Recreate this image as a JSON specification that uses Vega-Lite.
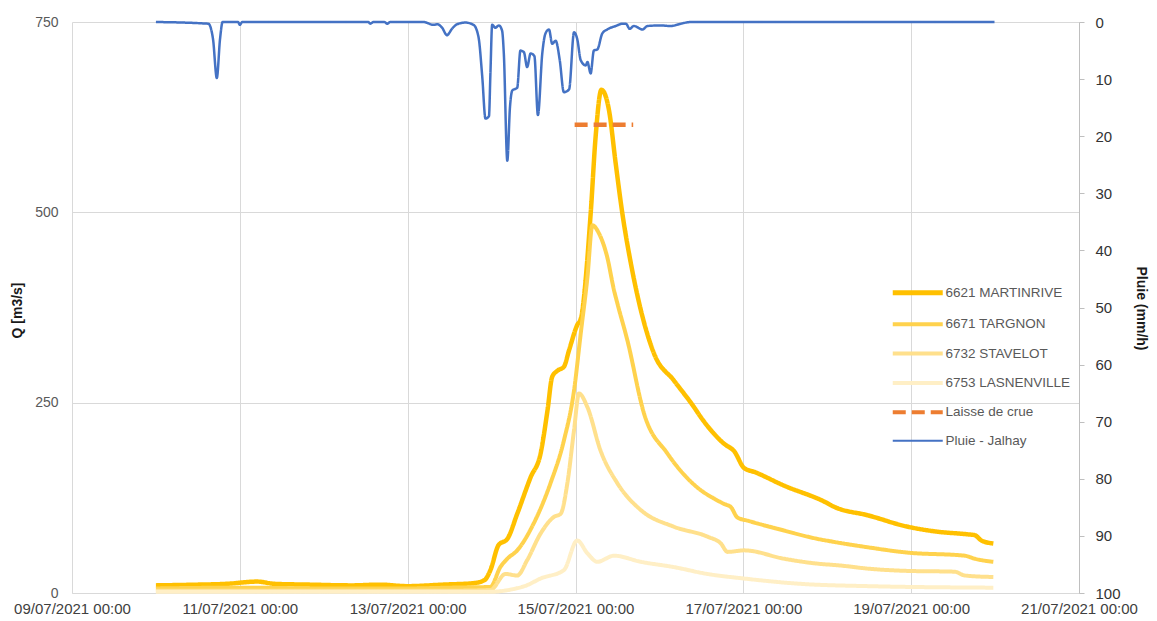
{
  "$schema": "https://vega.github.io/schema/vega-lite/v6.json",
  "width": 1007,
  "height": 571,
  "autosize": {"type": "none"},
  "padding": {"left": 72, "top": 22, "right": 78, "bottom": 28},
  "background": "white",
  "config": {
    "view": {"stroke": null},
    "font": "Liberation Sans"
  },
  "datasets": {
    "q": [
      {"t": "2021-07-10T00:00", "series": "6621 MARTINRIVE", "q": 10},
      {"t": "2021-07-10T12:00", "series": "6621 MARTINRIVE", "q": 11},
      {"t": "2021-07-10T20:00", "series": "6621 MARTINRIVE", "q": 12},
      {"t": "2021-07-11T05:00", "series": "6621 MARTINRIVE", "q": 15},
      {"t": "2021-07-11T10:00", "series": "6621 MARTINRIVE", "q": 12},
      {"t": "2021-07-11T20:00", "series": "6621 MARTINRIVE", "q": 11},
      {"t": "2021-07-12T08:00", "series": "6621 MARTINRIVE", "q": 10},
      {"t": "2021-07-12T16:00", "series": "6621 MARTINRIVE", "q": 11},
      {"t": "2021-07-13T00:00", "series": "6621 MARTINRIVE", "q": 9},
      {"t": "2021-07-13T10:00", "series": "6621 MARTINRIVE", "q": 11},
      {"t": "2021-07-13T19:00", "series": "6621 MARTINRIVE", "q": 13},
      {"t": "2021-07-13T22:00", "series": "6621 MARTINRIVE", "q": 17},
      {"t": "2021-07-13T23:40", "series": "6621 MARTINRIVE", "q": 30},
      {"t": "2021-07-14T02:00", "series": "6621 MARTINRIVE", "q": 63},
      {"t": "2021-07-14T04:30", "series": "6621 MARTINRIVE", "q": 71},
      {"t": "2021-07-14T07:20", "series": "6621 MARTINRIVE", "q": 104},
      {"t": "2021-07-14T11:10", "series": "6621 MARTINRIVE", "q": 152},
      {"t": "2021-07-14T14:00", "series": "6621 MARTINRIVE", "q": 183},
      {"t": "2021-07-14T16:00", "series": "6621 MARTINRIVE", "q": 240},
      {"t": "2021-07-14T17:20", "series": "6621 MARTINRIVE", "q": 284},
      {"t": "2021-07-14T18:50", "series": "6621 MARTINRIVE", "q": 292},
      {"t": "2021-07-14T20:40", "series": "6621 MARTINRIVE", "q": 297},
      {"t": "2021-07-14T22:10", "series": "6621 MARTINRIVE", "q": 319},
      {"t": "2021-07-15T00:30", "series": "6621 MARTINRIVE", "q": 352},
      {"t": "2021-07-15T01:30", "series": "6621 MARTINRIVE", "q": 360},
      {"t": "2021-07-15T04:20", "series": "6621 MARTINRIVE", "q": 498},
      {"t": "2021-07-15T05:45", "series": "6621 MARTINRIVE", "q": 599},
      {"t": "2021-07-15T07:25", "series": "6621 MARTINRIVE", "q": 661},
      {"t": "2021-07-15T09:35", "series": "6621 MARTINRIVE", "q": 634},
      {"t": "2021-07-15T11:30", "series": "6621 MARTINRIVE", "q": 564},
      {"t": "2021-07-15T13:25", "series": "6621 MARTINRIVE", "q": 498},
      {"t": "2021-07-15T15:50", "series": "6621 MARTINRIVE", "q": 433},
      {"t": "2021-07-15T17:45", "series": "6621 MARTINRIVE", "q": 390},
      {"t": "2021-07-15T22:30", "series": "6621 MARTINRIVE", "q": 314},
      {"t": "2021-07-16T04:10", "series": "6621 MARTINRIVE", "q": 279},
      {"t": "2021-07-16T09:55", "series": "6621 MARTINRIVE", "q": 244},
      {"t": "2021-07-16T11:50", "series": "6621 MARTINRIVE", "q": 231},
      {"t": "2021-07-16T18:30", "series": "6621 MARTINRIVE", "q": 196},
      {"t": "2021-07-16T21:25", "series": "6621 MARTINRIVE", "q": 186},
      {"t": "2021-07-17T00:15", "series": "6621 MARTINRIVE", "q": 164},
      {"t": "2021-07-17T03:10", "series": "6621 MARTINRIVE", "q": 159},
      {"t": "2021-07-17T11:40", "series": "6621 MARTINRIVE", "q": 141},
      {"t": "2021-07-17T23:10", "series": "6621 MARTINRIVE", "q": 120},
      {"t": "2021-07-18T02:05", "series": "6621 MARTINRIVE", "q": 113},
      {"t": "2021-07-18T11:40", "series": "6621 MARTINRIVE", "q": 102},
      {"t": "2021-07-18T23:05", "series": "6621 MARTINRIVE", "q": 87},
      {"t": "2021-07-19T06:40", "series": "6621 MARTINRIVE", "q": 81},
      {"t": "2021-07-19T16:15", "series": "6621 MARTINRIVE", "q": 77},
      {"t": "2021-07-19T18:10", "series": "6621 MARTINRIVE", "q": 76},
      {"t": "2021-07-19T20:05", "series": "6621 MARTINRIVE", "q": 69},
      {"t": "2021-07-19T23:30", "series": "6621 MARTINRIVE", "q": 65},

      {"t": "2021-07-10T00:00", "series": "6671 TARGNON", "q": 6},
      {"t": "2021-07-11T00:00", "series": "6671 TARGNON", "q": 7},
      {"t": "2021-07-12T00:00", "series": "6671 TARGNON", "q": 6},
      {"t": "2021-07-13T00:00", "series": "6671 TARGNON", "q": 6},
      {"t": "2021-07-13T12:00", "series": "6671 TARGNON", "q": 7},
      {"t": "2021-07-13T23:40", "series": "6671 TARGNON", "q": 8},
      {"t": "2021-07-14T02:30", "series": "6671 TARGNON", "q": 34},
      {"t": "2021-07-14T04:30", "series": "6671 TARGNON", "q": 45},
      {"t": "2021-07-14T07:20", "series": "6671 TARGNON", "q": 56},
      {"t": "2021-07-14T12:00", "series": "6671 TARGNON", "q": 91},
      {"t": "2021-07-14T16:50", "series": "6671 TARGNON", "q": 144},
      {"t": "2021-07-14T20:40", "series": "6671 TARGNON", "q": 200},
      {"t": "2021-07-14T23:35", "series": "6671 TARGNON", "q": 266},
      {"t": "2021-07-15T01:30", "series": "6671 TARGNON", "q": 341},
      {"t": "2021-07-15T03:25", "series": "6671 TARGNON", "q": 415},
      {"t": "2021-07-15T04:50", "series": "6671 TARGNON", "q": 483},
      {"t": "2021-07-15T06:45", "series": "6671 TARGNON", "q": 472},
      {"t": "2021-07-15T09:05", "series": "6671 TARGNON", "q": 441},
      {"t": "2021-07-15T11:00", "series": "6671 TARGNON", "q": 398},
      {"t": "2021-07-15T12:00", "series": "6671 TARGNON", "q": 380},
      {"t": "2021-07-15T14:50", "series": "6671 TARGNON", "q": 332},
      {"t": "2021-07-15T19:35", "series": "6671 TARGNON", "q": 236},
      {"t": "2021-07-16T02:20", "series": "6671 TARGNON", "q": 183},
      {"t": "2021-07-16T11:50", "series": "6671 TARGNON", "q": 135},
      {"t": "2021-07-16T15:40", "series": "6671 TARGNON", "q": 124},
      {"t": "2021-07-16T18:30", "series": "6671 TARGNON", "q": 117},
      {"t": "2021-07-16T20:25", "series": "6671 TARGNON", "q": 113},
      {"t": "2021-07-16T22:20", "series": "6671 TARGNON", "q": 99},
      {"t": "2021-07-17T01:15", "series": "6671 TARGNON", "q": 95},
      {"t": "2021-07-17T11:40", "series": "6671 TARGNON", "q": 82},
      {"t": "2021-07-17T21:20", "series": "6671 TARGNON", "q": 71},
      {"t": "2021-07-18T02:05", "series": "6671 TARGNON", "q": 67},
      {"t": "2021-07-18T11:40", "series": "6671 TARGNON", "q": 60},
      {"t": "2021-07-18T23:05", "series": "6671 TARGNON", "q": 53},
      {"t": "2021-07-19T15:20", "series": "6671 TARGNON", "q": 49},
      {"t": "2021-07-19T18:10", "series": "6671 TARGNON", "q": 45},
      {"t": "2021-07-19T23:30", "series": "6671 TARGNON", "q": 41},

      {"t": "2021-07-10T00:00", "series": "6732 STAVELOT", "q": 3},
      {"t": "2021-07-12T00:00", "series": "6732 STAVELOT", "q": 3},
      {"t": "2021-07-13T12:00", "series": "6732 STAVELOT", "q": 3},
      {"t": "2021-07-13T23:40", "series": "6732 STAVELOT", "q": 4},
      {"t": "2021-07-14T04:00", "series": "6732 STAVELOT", "q": 25},
      {"t": "2021-07-14T07:20", "series": "6732 STAVELOT", "q": 23},
      {"t": "2021-07-14T10:10", "series": "6732 STAVELOT", "q": 43},
      {"t": "2021-07-14T14:00", "series": "6732 STAVELOT", "q": 78},
      {"t": "2021-07-14T17:50", "series": "6732 STAVELOT", "q": 100},
      {"t": "2021-07-14T19:45", "series": "6732 STAVELOT", "q": 104},
      {"t": "2021-07-14T21:40", "series": "6732 STAVELOT", "q": 144},
      {"t": "2021-07-14T23:35", "series": "6732 STAVELOT", "q": 214},
      {"t": "2021-07-15T01:00", "series": "6732 STAVELOT", "q": 262},
      {"t": "2021-07-15T03:25", "series": "6732 STAVELOT", "q": 244},
      {"t": "2021-07-15T07:10", "series": "6732 STAVELOT", "q": 187},
      {"t": "2021-07-15T12:00", "series": "6732 STAVELOT", "q": 144},
      {"t": "2021-07-15T18:40", "series": "6732 STAVELOT", "q": 109},
      {"t": "2021-07-16T04:10", "series": "6732 STAVELOT", "q": 87},
      {"t": "2021-07-16T13:45", "series": "6732 STAVELOT", "q": 74},
      {"t": "2021-07-16T17:35", "series": "6732 STAVELOT", "q": 65},
      {"t": "2021-07-16T19:30", "series": "6732 STAVELOT", "q": 54},
      {"t": "2021-07-17T00:15", "series": "6732 STAVELOT", "q": 56},
      {"t": "2021-07-17T11:40", "series": "6732 STAVELOT", "q": 45},
      {"t": "2021-07-17T20:20", "series": "6732 STAVELOT", "q": 39},
      {"t": "2021-07-18T04:00", "series": "6732 STAVELOT", "q": 36},
      {"t": "2021-07-18T11:40", "series": "6732 STAVELOT", "q": 32},
      {"t": "2021-07-18T23:05", "series": "6732 STAVELOT", "q": 29},
      {"t": "2021-07-19T12:25", "series": "6732 STAVELOT", "q": 28},
      {"t": "2021-07-19T15:20", "series": "6732 STAVELOT", "q": 23},
      {"t": "2021-07-19T23:30", "series": "6732 STAVELOT", "q": 21},

      {"t": "2021-07-10T00:00", "series": "6753 LASNENVILLE", "q": 1.5},
      {"t": "2021-07-13T23:00", "series": "6753 LASNENVILLE", "q": 1.5},
      {"t": "2021-07-14T06:00", "series": "6753 LASNENVILLE", "q": 5},
      {"t": "2021-07-14T10:00", "series": "6753 LASNENVILLE", "q": 10},
      {"t": "2021-07-14T14:00", "series": "6753 LASNENVILLE", "q": 19},
      {"t": "2021-07-14T20:40", "series": "6753 LASNENVILLE", "q": 30},
      {"t": "2021-07-15T00:30", "series": "6753 LASNENVILLE", "q": 69},
      {"t": "2021-07-15T03:25", "series": "6753 LASNENVILLE", "q": 52},
      {"t": "2021-07-15T06:15", "series": "6753 LASNENVILLE", "q": 41},
      {"t": "2021-07-15T11:00", "series": "6753 LASNENVILLE", "q": 49},
      {"t": "2021-07-15T18:40", "series": "6753 LASNENVILLE", "q": 41},
      {"t": "2021-07-16T04:10", "series": "6753 LASNENVILLE", "q": 34},
      {"t": "2021-07-16T13:45", "series": "6753 LASNENVILLE", "q": 25},
      {"t": "2021-07-17T00:15", "series": "6753 LASNENVILLE", "q": 19},
      {"t": "2021-07-17T16:30", "series": "6753 LASNENVILLE", "q": 12},
      {"t": "2021-07-18T11:40", "series": "6753 LASNENVILLE", "q": 9},
      {"t": "2021-07-19T23:30", "series": "6753 LASNENVILLE", "q": 7},

      {"t": "2021-07-14T23:45", "series": "Laisse de crue", "q": 615},
      {"t": "2021-07-15T16:30", "series": "Laisse de crue", "q": 615}
    ],
    "pluie": [
      {"t": "2021-07-10T00:00", "series": "Pluie - Jalhay", "p": 0},
      {"t": "2021-07-10T15:00", "series": "Pluie - Jalhay", "p": 0.3},
      {"t": "2021-07-10T16:20", "series": "Pluie - Jalhay", "p": 3},
      {"t": "2021-07-10T17:25", "series": "Pluie - Jalhay", "p": 9.8},
      {"t": "2021-07-10T18:20", "series": "Pluie - Jalhay", "p": 3},
      {"t": "2021-07-10T19:05", "series": "Pluie - Jalhay", "p": 0},
      {"t": "2021-07-10T23:30", "series": "Pluie - Jalhay", "p": 0},
      {"t": "2021-07-11T00:00", "series": "Pluie - Jalhay", "p": 0.5},
      {"t": "2021-07-11T00:40", "series": "Pluie - Jalhay", "p": 0},
      {"t": "2021-07-12T12:45", "series": "Pluie - Jalhay", "p": 0},
      {"t": "2021-07-12T13:20", "series": "Pluie - Jalhay", "p": 0.3},
      {"t": "2021-07-12T14:10", "series": "Pluie - Jalhay", "p": 0},
      {"t": "2021-07-12T17:20", "series": "Pluie - Jalhay", "p": 0},
      {"t": "2021-07-12T18:10", "series": "Pluie - Jalhay", "p": 0.3},
      {"t": "2021-07-12T19:00", "series": "Pluie - Jalhay", "p": 0},
      {"t": "2021-07-13T04:30", "series": "Pluie - Jalhay", "p": 0},
      {"t": "2021-07-13T07:25", "series": "Pluie - Jalhay", "p": 0.5},
      {"t": "2021-07-13T08:30", "series": "Pluie - Jalhay", "p": 0.4},
      {"t": "2021-07-13T09:50", "series": "Pluie - Jalhay", "p": 1},
      {"t": "2021-07-13T11:15", "series": "Pluie - Jalhay", "p": 2.3},
      {"t": "2021-07-13T12:40", "series": "Pluie - Jalhay", "p": 1.2},
      {"t": "2021-07-13T14:05", "series": "Pluie - Jalhay", "p": 0.4},
      {"t": "2021-07-13T16:30", "series": "Pluie - Jalhay", "p": 0.1},
      {"t": "2021-07-13T18:50", "series": "Pluie - Jalhay", "p": 0.5},
      {"t": "2021-07-13T20:15", "series": "Pluie - Jalhay", "p": 2.6},
      {"t": "2021-07-13T21:20", "series": "Pluie - Jalhay", "p": 9.6},
      {"t": "2021-07-13T22:15", "series": "Pluie - Jalhay", "p": 16.9},
      {"t": "2021-07-13T23:15", "series": "Pluie - Jalhay", "p": 16.5},
      {"t": "2021-07-13T23:40", "series": "Pluie - Jalhay", "p": 9},
      {"t": "2021-07-14T00:10", "series": "Pluie - Jalhay", "p": 0.5},
      {"t": "2021-07-14T01:05", "series": "Pluie - Jalhay", "p": 1},
      {"t": "2021-07-14T02:05", "series": "Pluie - Jalhay", "p": 0.6},
      {"t": "2021-07-14T03:00", "series": "Pluie - Jalhay", "p": 1.5},
      {"t": "2021-07-14T03:30", "series": "Pluie - Jalhay", "p": 5.5},
      {"t": "2021-07-14T04:30", "series": "Pluie - Jalhay", "p": 24.3},
      {"t": "2021-07-14T05:15", "series": "Pluie - Jalhay", "p": 15},
      {"t": "2021-07-14T05:55", "series": "Pluie - Jalhay", "p": 12},
      {"t": "2021-07-14T07:20", "series": "Pluie - Jalhay", "p": 11.5},
      {"t": "2021-07-14T08:15", "series": "Pluie - Jalhay", "p": 5},
      {"t": "2021-07-14T09:15", "series": "Pluie - Jalhay", "p": 5.3},
      {"t": "2021-07-14T10:10", "series": "Pluie - Jalhay", "p": 7.9},
      {"t": "2021-07-14T11:10", "series": "Pluie - Jalhay", "p": 5.5},
      {"t": "2021-07-14T12:15", "series": "Pluie - Jalhay", "p": 6},
      {"t": "2021-07-14T13:15", "series": "Pluie - Jalhay", "p": 16.3},
      {"t": "2021-07-14T14:30", "series": "Pluie - Jalhay", "p": 5.5},
      {"t": "2021-07-14T15:25", "series": "Pluie - Jalhay", "p": 2},
      {"t": "2021-07-14T16:25", "series": "Pluie - Jalhay", "p": 1.3},
      {"t": "2021-07-14T17:20", "series": "Pluie - Jalhay", "p": 3.8},
      {"t": "2021-07-14T18:20", "series": "Pluie - Jalhay", "p": 3.3},
      {"t": "2021-07-14T19:30", "series": "Pluie - Jalhay", "p": 6.7},
      {"t": "2021-07-14T20:40", "series": "Pluie - Jalhay", "p": 12.3},
      {"t": "2021-07-14T22:10", "series": "Pluie - Jalhay", "p": 11.8},
      {"t": "2021-07-14T23:35", "series": "Pluie - Jalhay", "p": 1.8},
      {"t": "2021-07-15T00:30", "series": "Pluie - Jalhay", "p": 3},
      {"t": "2021-07-15T01:30", "series": "Pluie - Jalhay", "p": 6.7},
      {"t": "2021-07-15T02:55", "series": "Pluie - Jalhay", "p": 7.6},
      {"t": "2021-07-15T03:25", "series": "Pluie - Jalhay", "p": 7},
      {"t": "2021-07-15T04:20", "series": "Pluie - Jalhay", "p": 9},
      {"t": "2021-07-15T05:15", "series": "Pluie - Jalhay", "p": 5},
      {"t": "2021-07-15T06:15", "series": "Pluie - Jalhay", "p": 4.8},
      {"t": "2021-07-15T07:40", "series": "Pluie - Jalhay", "p": 2},
      {"t": "2021-07-15T09:05", "series": "Pluie - Jalhay", "p": 1.3},
      {"t": "2021-07-15T11:30", "series": "Pluie - Jalhay", "p": 0.7},
      {"t": "2021-07-15T13:25", "series": "Pluie - Jalhay", "p": 0.3},
      {"t": "2021-07-15T14:25", "series": "Pluie - Jalhay", "p": 0.3},
      {"t": "2021-07-15T15:30", "series": "Pluie - Jalhay", "p": 1.2},
      {"t": "2021-07-15T16:40", "series": "Pluie - Jalhay", "p": 0.7},
      {"t": "2021-07-15T19:10", "series": "Pluie - Jalhay", "p": 1.3},
      {"t": "2021-07-15T20:35", "series": "Pluie - Jalhay", "p": 0.7},
      {"t": "2021-07-16T00:25", "series": "Pluie - Jalhay", "p": 0.6},
      {"t": "2021-07-16T03:15", "series": "Pluie - Jalhay", "p": 0.7},
      {"t": "2021-07-16T06:05", "series": "Pluie - Jalhay", "p": 0.3},
      {"t": "2021-07-16T09:00", "series": "Pluie - Jalhay", "p": 0},
      {"t": "2021-07-19T23:50", "series": "Pluie - Jalhay", "p": 0}
    ]
  },
  "layer": [
    {
      "data": {"name": "q"},
      "mark": {"type": "line", "interpolate": "monotone", "strokeCap": "butt"},
      "encoding": {
        "x": {
          "field": "t", "type": "temporal",
          "scale": {"domain": [{"year": 2021, "month": 7, "date": 9}, {"year": 2021, "month": 7, "date": 21}]},
          "axis": {
            "title": null,
            "values": [
              {"year": 2021, "month": 7, "date": 9}, {"year": 2021, "month": 7, "date": 11},
              {"year": 2021, "month": 7, "date": 13}, {"year": 2021, "month": 7, "date": 15},
              {"year": 2021, "month": 7, "date": 17}, {"year": 2021, "month": 7, "date": 19},
              {"year": 2021, "month": 7, "date": 21}
            ],
            "format": "%d/%m/%Y %H:%M",
            "labelFontSize": 15, "labelColor": "#404040", "labelPadding": 8,
            "labelFlush": false, "labelOverlap": false,
            "ticks": false, "domain": true, "domainColor": "#d9d9d9",
            "grid": true, "gridColor": "#d9d9d9"
          }
        },
        "y": {
          "field": "q", "type": "quantitative",
          "scale": {"domain": [0, 750], "nice": false},
          "axis": {
            "title": "Q [m3/s]", "titleFontSize": 14, "titleFontWeight": "bold", "titleColor": "#1a1a1a",
            "titleX": -55, "titleY": 288, "titleBaseline": "middle", "titleAngle": -90,
            "values": [0, 250, 500, 750],
            "labelFontSize": 14, "labelColor": "#595959", "labelPadding": 14,
            "ticks": false, "domain": false,
            "grid": true, "gridColor": "#d9d9d9"
          }
        },
        "color": {
          "field": "series", "type": "nominal",
          "scale": {
            "domain": ["6621 MARTINRIVE", "6671 TARGNON", "6732 STAVELOT", "6753 LASNENVILLE", "Laisse de crue", "Pluie - Jalhay"],
            "range": ["#FFC000", "#FFD24D", "#FFE08C", "#FFEFC6", "#ED7D31", "#4472C4"]
          },
          "legend": {
            "title": null, "orient": "none", "legendX": 839, "legendY": 264,
            "symbolType": "M-5,0H5", "symbolSize": 100, "labelOffset": 21,
            "labelFontSize": 13.5, "labelColor": "#595959", "rowPadding": 12.4,
            "symbolFillColor": "transparent",
            "encode": {
              "symbols": {"update": {"strokeWidth": {"signal": "datum.value === '6621 MARTINRIVE' ? 5 : (datum.value === 'Pluie - Jalhay' ? 1.8 : 4)"}}}
            }
          }
        },
        "strokeWidth": {
          "field": "series", "type": "nominal",
          "scale": {
            "type": "ordinal",
            "domain": ["6621 MARTINRIVE", "6671 TARGNON", "6732 STAVELOT", "6753 LASNENVILLE", "Laisse de crue", "Pluie - Jalhay"],
            "range": [4.5, 4, 4, 4, 4.5, 1.6]
          },
          "legend": null
        },
        "strokeDash": {
          "field": "series", "type": "nominal",
          "scale": {
            "domain": ["6621 MARTINRIVE", "6671 TARGNON", "6732 STAVELOT", "6753 LASNENVILLE", "Laisse de crue", "Pluie - Jalhay"],
            "range": [[1, 0], [1, 0], [1, 0], [1, 0], [13, 6], [1, 0]]
          },
          "legend": {"title": null}
        }
      }
    },
    {
      "data": {"name": "pluie"},
      "mark": {"type": "line", "interpolate": "monotone"},
      "encoding": {
        "x": {"field": "t", "type": "temporal"},
        "y": {
          "field": "p", "type": "quantitative",
          "scale": {"domain": [0, 100], "reverse": true, "nice": false},
          "axis": {
            "orient": "right",
            "title": "Pluie (mm/h)", "titleFontSize": 14, "titleFontWeight": "bold", "titleColor": "#1a1a1a",
            "titleX": 61, "titleY": 286, "titleBaseline": "middle", "titleAngle": 90,
            "values": [0, 10, 20, 30, 40, 50, 60, 70, 80, 90, 100],
            "labelFontSize": 15, "labelColor": "#333333", "labelPadding": 11,
            "ticks": true, "tickSize": 5, "tickColor": "#bfbfbf",
            "domain": true, "domainColor": "#bfbfbf",
            "grid": false
          }
        },
        "color": {"field": "series", "type": "nominal"},
        "strokeWidth": {"field": "series", "type": "nominal", "legend": null},
        "strokeDash": {"field": "series", "type": "nominal"}
      }
    }
  ],
  "resolve": {"scale": {"y": "independent"}}
}
